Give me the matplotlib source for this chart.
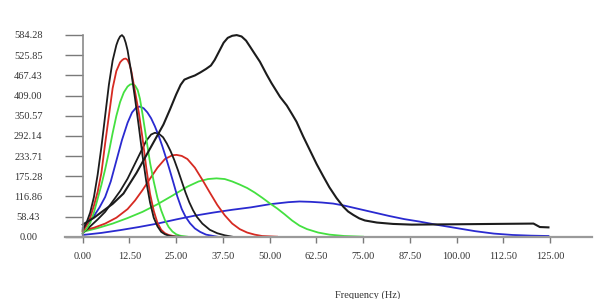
import matplotlib
matplotlib.use("Agg")
import matplotlib.pyplot as plt

# ---- data ----
x_tick_labels = ["0.00", "12.50", "25.00", "37.50", "50.00", "62.50",
                 "75.00", "87.50", "100.00", "112.50", "125.00"]
y_tick_labels = ["0.00", "58.43", "116.86", "175.28", "233.71", "292.14",
                 "350.57", "409.00", "467.43", "525.85", "584.28"]

black1_x = [0, 1, 2, 3, 4, 5, 6, 7, 8, 9, 9.5, 10, 10.5, 11, 11.5, 12, 13, 14, 15, 16, 17, 18, 19, 20, 21, 22, 23, 24, 26]
black1_y = [20, 40, 70, 115, 180, 260, 350, 440, 510, 555, 570, 580, 584, 578, 562, 540, 475, 400, 320, 235, 160, 100, 55, 30, 14, 7, 3, 1, 0]

red1_x = [0, 1, 2, 3, 4, 5, 6, 7, 8, 9, 10, 10.5, 11, 11.5, 12, 12.5, 13, 14, 15, 16, 17, 18, 19, 20, 21, 22, 23, 25]
red1_y = [15, 32, 55, 90, 130, 185, 270, 350, 430, 480, 505, 511, 515, 516, 512, 500, 480, 420, 360, 285, 200, 125, 75, 40, 20, 10, 5, 0]

green1_x = [0, 1, 2, 3, 4, 5, 6, 7, 8, 9, 10, 11, 12, 12.7, 13.3, 14, 14.7, 15.3, 16, 17, 18, 19, 20, 21, 22, 23, 24, 25, 26, 28]
green1_y = [10, 22, 40, 70, 110, 150, 195, 245, 300, 350, 390, 418, 435, 441, 442, 438, 425, 400, 355, 285, 215, 160, 112, 76, 48, 28, 15, 7, 3, 0]

blue1_x = [0, 1.5, 3, 4.5, 6, 7.5, 9, 10.5, 12, 13.2, 14.3, 15.3, 16.3, 17.3, 18.3, 19.3, 20.3, 21.3, 22.3,
           23.3, 24.3, 25.3, 26.5, 27.5, 28.7, 30, 31.4, 33, 36]
blue1_y = [25, 40, 60, 85, 115, 160, 220, 280, 330, 360, 374, 377, 372, 360, 343, 320, 293, 262, 228,
           192, 155, 117, 80, 58, 39, 24, 14, 6, 0]

black2_x = [0, 2, 4, 6, 8, 10, 12, 14, 15.5, 17, 18.3, 19.3, 20.3, 21.5, 22.5, 23.5, 24.5, 25.5, 26.5,
            27.5, 28.5, 29.5, 30.5, 32, 34, 36, 38, 40]
black2_y = [10, 30, 50, 72, 102, 132, 168, 212, 245, 278, 296, 301, 299, 288, 270, 248, 222, 192, 160,
            128, 100, 77, 58, 38, 20, 10, 4, 0]

red2_x = [0, 3, 6, 9, 12, 14, 16, 18, 20, 22, 24, 25.1, 26.5, 28, 30, 32, 34, 36, 38, 40, 42, 44, 46, 48, 52]
red2_y = [18, 26, 38, 55, 80, 105, 135, 168, 200, 225, 236, 237, 234, 225, 200, 165, 128, 92, 62, 38, 22, 12, 6, 2, 0]

green2_x = [0, 4, 8, 12, 16, 20, 24, 28, 31, 33.5, 35.8, 38, 40, 42, 44, 46, 48, 50, 52, 54, 56, 58, 60,
            63, 66, 70, 75]
green2_y = [14, 25, 38, 54, 72, 94, 119, 145, 160, 167, 169, 167, 160, 151, 141, 128, 113, 97, 82, 65, 47, 32, 22,
            12, 6, 2, 0]

blue2_x = [0, 5, 10, 15, 20, 25, 30, 35, 40, 45, 50, 55, 58, 61, 64, 67, 70, 74, 78, 82, 86, 90, 95,
           100, 105, 110, 115, 120, 124.6]
blue2_y = [5, 11, 19, 28, 38, 50, 61, 70, 78, 85, 94, 100, 102, 101, 99, 96, 90, 80, 70, 60, 51, 44, 34,
           25, 16, 9, 5, 3, 2]

bigblack_x = [0, 3, 5.5, 8, 10.9, 14.4, 18, 21.6, 23.4, 25, 26.2, 27.2, 28.5, 30, 31.5, 33, 34.3, 35.3,
              36.5, 37.7, 38.8, 40, 41.2, 42.5, 43.7, 44.8, 46, 47.4, 49.2, 50.5, 52.8, 54.6, 56, 57.2,
              59, 60.8, 62.6, 64.4, 66, 67.9, 69.7, 71, 72.4, 74, 75.5, 78.7, 83, 88, 100, 110, 120.6,
              122.3, 124.6]
bigblack_y = [35, 55, 75, 95, 125, 185, 255, 325, 370, 412, 440, 455, 461, 467, 476, 486, 496, 512,
              537, 562, 576, 582, 584, 580, 568, 550, 530, 507, 470, 445, 405, 380, 355, 333,
              290, 250, 210, 174, 143, 112, 87, 73, 63, 53, 47, 41, 37, 35, 36, 37, 38,
              28, 27]

BLACK = "#1c1c1c"
RED = "#d62a22"
GREEN = "#44e040"
BLUE = "#2a2ad0"

series = [
    (blue2_x, blue2_y, BLUE, 1.3),
    (green2_x, green2_y, GREEN, 1.3),
    (red2_x, red2_y, RED, 1.3),
    (black2_x, black2_y, BLACK, 1.3),
    (blue1_x, blue1_y, BLUE, 1.3),
    (green1_x, green1_y, GREEN, 1.3),
    (red1_x, red1_y, RED, 1.3),
    (black1_x, black1_y, BLACK, 1.3),
    (bigblack_x, bigblack_y, BLACK, 1.5),
]

W, H = 600, 299
fig = plt.figure(figsize=(W / 100, H / 100), dpi=100)
ax = fig.add_axes([65 / W, 1 - 236.7 / H, (592 - 65) / W, (236.7 - 35) / H])

for xs, ys, c, lw in series:
    ax.plot(xs, ys, color=c, lw=lw, clip_on=False, solid_joinstyle="round")

ax.set_xlim(-4.74, 136.25)
ax.set_ylim(0, 584.28)

for s in ("top", "right"):
    ax.spines[s].set_visible(False)
ax.spines["left"].set_position(("data", 0))
ax.spines["left"].set_color("#8a8a8a")
ax.spines["bottom"].set_color("#9a9a9a")
ax.spines["left"].set_linewidth(1.2)
ax.spines["bottom"].set_linewidth(1.6)

xt = [float(s) for s in x_tick_labels]
yt = [float(s) for s in y_tick_labels]
ax.set_xticks(xt)
ax.set_xticklabels(x_tick_labels)
ax.set_yticks(yt)
ax.set_yticklabels(y_tick_labels)

tick_font = dict(family="Liberation Serif", size=7.5)
ax.tick_params(axis="y", direction="out", length=12.7, width=1.0, color="#7a7a7a",
               pad=26.5, labelcolor="#333333")
ax.tick_params(axis="x", direction="out", length=4.3, width=1.0, color="#7a7a7a",
               pad=6.5, labelcolor="#333333")
for lab in ax.get_yticklabels():
    lab.set_fontproperties(tick_font)
    lab.set_ha("center")
for lab in ax.get_xticklabels():
    lab.set_fontproperties(tick_font)

fig.text(368 / W, 1 - 290 / H, "Frequency (Hz)", ha="center", va="top",
         family="Liberation Serif", size=7.5, color="#333333")

fig.savefig("out.png", dpi=100)
